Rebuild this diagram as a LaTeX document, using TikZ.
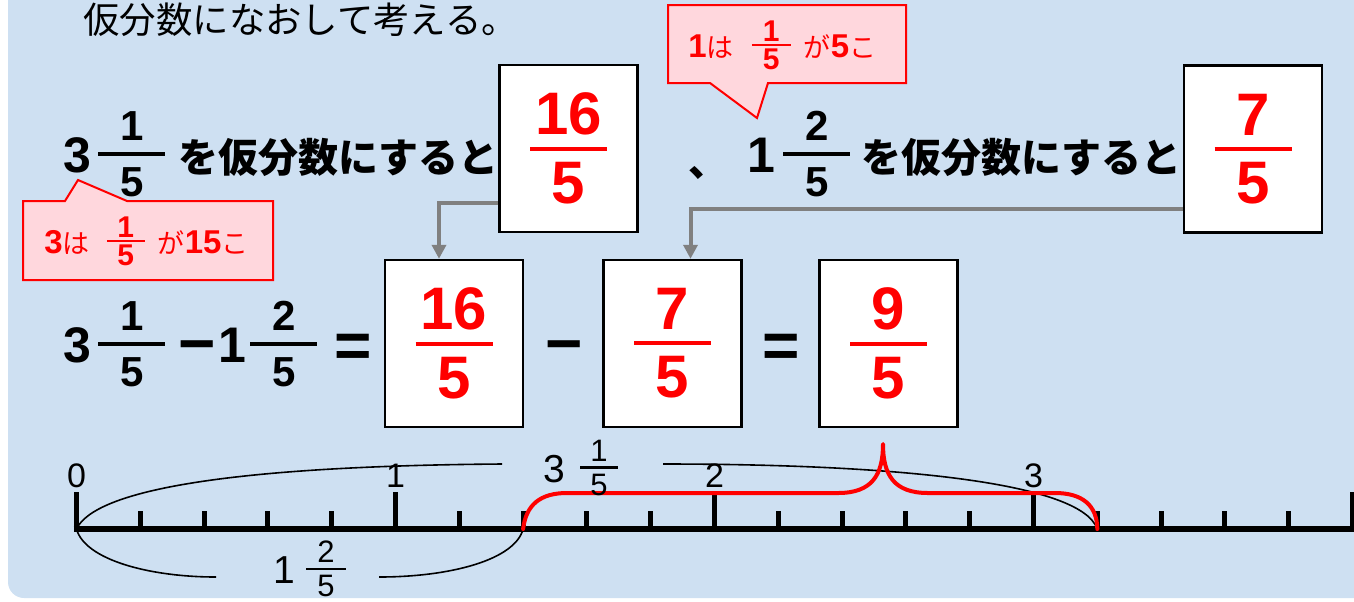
\documentclass[tikz,border=0pt]{standalone}
\usepackage{fontspec}
\setmainfont{Liberation Sans}
\newfontfamily\jp{Noto Sans CJK JP}
\usetikzlibrary{arrows.meta,calc}
\definecolor{PanelBlue}{HTML}{CEE0F2}
\definecolor{NotePink}{HTML}{FFD7DD}
\definecolor{FeedGray}{HTML}{808080}
\newcommand\fs[1]{\fontsize{#1}{#1}\selectfont}
% stacked fraction, rule centred on the digit height
\newsavebox\frcbox
\newcommand\frc[4][.3em]{%
  \sbox\frcbox{\vbox{\offinterlineskip\halign{\hfil##\hfil\cr
    #3\cr\noalign{\kern#1}%
    \vrule width #2 height .07em depth 0pt\cr\noalign{\kern#1}%
    #4\cr}}}%
  \raisebox{\dimexpr.36em-.5\ht\frcbox+.5\dp\frcbox\relax}{\usebox\frcbox}}

\begin{document}
\begin{tikzpicture}[x=0.5pt,y=-0.5pt,
  txt/.style={inner sep=0pt,anchor=base west},
  numbox/.style={draw=black,line width=1.2pt,fill=white,minimum width=69pt,minimum height=83.5pt,inner sep=0pt},
  answer/.style={font=\fs{30}\bfseries,text=red},
  opsign/.style={inner sep=0pt,anchor=base,font=\fs{32}\bfseries},
  bubble/.style={draw=red,fill=NotePink,line width=1pt},
  feed/.style={draw=FeedGray,line width=2pt,-{Triangle[width=7pt,length=7pt]}},
  axisline/.style={line width=3pt},
  bigtick/.style={line width=2.5pt},
  smalltick/.style={line width=2.5pt},
  span/.style={line width=0.8pt},
  brace/.style={red,line width=2pt,line cap=round,line join=round},
]
\useasboundingbox (0,0) rectangle (1354,601);
\clip (0,0) rectangle (1354,601);
\fill[PanelBlue,rounded corners=8pt] (8,-40) rectangle (1400,598);

\node[inner sep=0pt,anchor=west,font=\jp\fs{18.2}] (title) at (83,20) {仮分数になおして考える。};

% first line
\node[txt,font=\fs{25}\bfseries] (mixA) at (63,172) {3\hspace{3.5pt}\frc[.24em]{33.5pt}{\fs{21}1}{\fs{21}5}\hspace{6.5pt}{\jp\fs{20}を仮分数にすると}};
\node[numbox,answer] (boxA) at (568.5,148.5) {\frc[.19em]{38.5pt}{16}{5}};
\node[txt,font=\jp\fs{20}\bfseries] (comma) at (688,176) {、};
\node[txt,font=\fs{25}\bfseries] (mixB) at (747,172) {1\hspace{4pt}\frc[.24em]{33.5pt}{\fs{21}2}{\fs{21}5}\hspace{5.5pt}{\jp\fs{20}を仮分数にすると}};
\node[numbox,answer] (boxB) at (1253,149) {\frc[.19em]{38.5pt}{7}{5}};

% second line
\node[txt,font=\fs{25}\bfseries] (lhsA) at (63,362) {3\hspace{3.5pt}\frc[.24em]{33.5pt}{\fs{21}1}{\fs{21}5}};
\node[opsign] (minA) at (197,365) {−};
\node[txt,font=\fs{25}\bfseries] (lhsB) at (218,362) {1\hspace{2pt}\frc[.24em]{33.5pt}{\fs{21}2}{\fs{21}5}};
\node[opsign] (eqA) at (353,367) {=};
\node[numbox,answer] (boxC) at (454,343.5) {\frc[.19em]{38.5pt}{16}{5}};
\node[opsign] (minB) at (564,365) {−};
\node[numbox,answer] (boxD) at (672.5,343.5) {\frc[.19em]{38.5pt}{7}{5}};
\node[opsign] (eqB) at (781,367) {=};
\node[numbox,answer] (boxE) at (888.5,343.5) {\frc[.19em]{38.5pt}{9}{5}};

\draw[feed] ($(boxA.south west)+(0,-30)$) -| ($(boxC.north)+(-15,0)$);
\draw[feed] ($(boxB.south west)+(0,-25)$) -| ($(boxD.north)+(18,0)$);

% callouts
\draw[bubble] (668,5) -- (906,5) -- (906,83) -- (768,83) -- (757,118) -- (710,83) -- (668,83) -- cycle;
\node[txt,text=red,font=\fs{16.5}\bfseries] (noteA) at (688,57) {1{\jp\mdseries\fs{13.5}は}\hspace{9pt}\frc[.08em]{19.5pt}{\fs{15}1}{\fs{15}5}\hspace{6.5pt}{\jp\mdseries\fs{13.5}が}5{\jp\mdseries\fs{13.5}こ}};
\draw[bubble] (23,201) -- (65,201) -- (78,180) -- (127,201) -- (273,201) -- (273,280) -- (23,280) -- cycle;
\node[txt,text=red,font=\fs{16.5}\bfseries] (noteB) at (44,253) {3{\jp\mdseries\fs{13.5}は}\hspace{8.5pt}\frc[.08em]{19pt}{\fs{15}1}{\fs{15}5}\hspace{6.5pt}{\jp\mdseries\fs{13.5}が}15{\jp\mdseries\fs{13.5}こ}};

% number line
\foreach \k in {0,...,20}
  \coordinate (t\k) at ({76.5+63.8*\k},529);
\draw[axisline] ($(t0)+(-3,0)$) -- ($(t20)+(30,0)$);
\foreach \k in {0,5,10,15,20}
  \draw[bigtick] (t\k) -- ++(0,-37);
\foreach \k in {1,2,3,4,6,7,8,9,11,12,13,14,16,17,18,19}
  \draw[smalltick] (t\k) -- ++(0,-18);
\foreach \k/\lab in {0/0,5/1,10/2,15/3}
  \node[anchor=base,inner sep=0pt,font=\fs{17}] (lab\lab) at ($(t\k)+(0,-42)$) {\lab};

\draw[span] (t0) .. controls (95,490) and (230,466) .. (502,464);
\draw[span] (663,464) .. controls (880,464) and (1080,480) .. (t16);
\draw[span] (t0) .. controls (85,560) and (150,577) .. (216,577);
\draw[span] (379,577) .. controls (450,577) and (515,560) .. (t7);
\draw[brace] (t7) .. controls (526,505) and (540,493) .. (567,493) -- (838,493)
  .. controls (872,493) and (883,475) .. (883,444)
  .. controls (883,475) and (894,493) .. (928,493) -- (1055,493)
  .. controls (1082,493) and (1097,505) .. (t16);

\node[txt,font=\fs{19.5}] (spanA) at (543,482) {3\hspace{7.5pt}\frc[.13em]{19pt}{\fs{15.5}1}{\fs{15.5}5}};
\node[txt,font=\fs{19.5}] (spanB) at (273,583) {1\hspace{5.5pt}\frc[.13em]{20pt}{\fs{15.5}2}{\fs{15.5}5}};
\end{tikzpicture}
\end{document}
